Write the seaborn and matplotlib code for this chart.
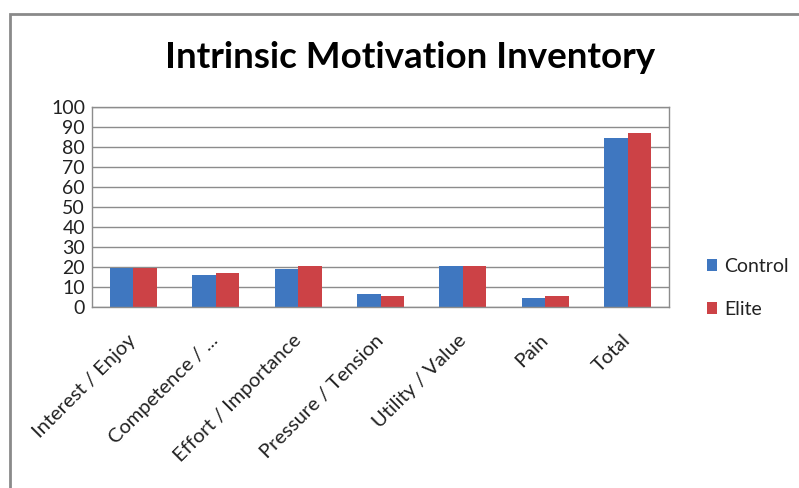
import matplotlib
matplotlib.use("Agg")
import matplotlib.pyplot as plt
from matplotlib.patches import Rectangle
import seaborn as sns
import pandas as pd

categories = ["Interest / Enjoy", "Competence / ...", "Effort / Importance",
              "Pressure / Tension", "Utility / Value", "Pain", "Total"]
control = [19.7, 15.8, 18.9, 6.6, 20.7, 4.5, 84.4]
elite = [19.7, 16.9, 20.5, 5.3, 20.7, 5.6, 87.2]
groups = ["Control", "Elite"]
y_ticks = [0, 10, 20, 30, 40, 50, 60, 70, 80, 90, 100]

df = pd.DataFrame({
    "category": categories * 2,
    "group": [groups[0]] * len(categories) + [groups[1]] * len(categories),
    "score": control + elite,
})

sns.set_theme(style="white")
plt.rcParams["font.family"] = ["Lato", "DejaVu Sans"]

fig = plt.figure(figsize=(7.99, 4.88), dpi=100)
fig.patch.set_facecolor("white")

# chart frame (left and top edges visible)
fig.patches.append(Rectangle((10 / 799, -0.1), 1.2, (488 - 14) / 488 + 0.1,
                             transform=fig.transFigure, fill=False,
                             edgecolor="#8a8a8a", linewidth=2))

ax = fig.add_axes([92 / 799, 1 - 307 / 488, (669 - 92) / 799, 200 / 488])
palette = {"Control": "#3F77C0", "Elite": "#CC4246"}
sns.barplot(data=df, x="category", y="score", hue="group", order=categories,
            hue_order=groups, palette=palette, width=0.57, gap=0,
            saturation=1, linewidth=0, ax=ax, legend=True)

ax.set_ylim(0, 100)
ax.set_yticks(y_ticks)
ax.set_yticklabels([str(t) for t in y_ticks], fontsize=14, color="#222222")
ax.yaxis.grid(True, color="#8c8c8c", linewidth=1)
ax.set_axisbelow(True)
ax.set_xlabel("")
ax.set_ylabel("")
ax.tick_params(axis="both", length=0)
ax.tick_params(axis="y", pad=5)
ax.tick_params(axis="x", pad=22)
for lbl in ax.get_xticklabels():
    lbl.set_rotation(45)
    lbl.set_ha("right")
    lbl.set_va("center")
    lbl.set_rotation_mode("anchor")
    lbl.set_fontsize(14.5)
    lbl.set_color("#222222")
for s in ax.spines.values():
    s.set_color("#8c8c8c")
    s.set_linewidth(1)

leg = ax.legend(loc="center left", bbox_to_anchor=(1.035, 0.095), frameon=False,
                fontsize=14, handlelength=0.55, handleheight=0.55,
                handletextpad=0.35, labelspacing=1.35)
for t in leg.get_texts():
    t.set_color("#222222")

fig.text(410 / 799, 1 - 58 / 488, "Intrinsic Motivation Inventory",
         ha="center", va="center", fontsize=26.5, fontweight="bold",
         color="black")

fig.savefig("out.png", dpi=100)
